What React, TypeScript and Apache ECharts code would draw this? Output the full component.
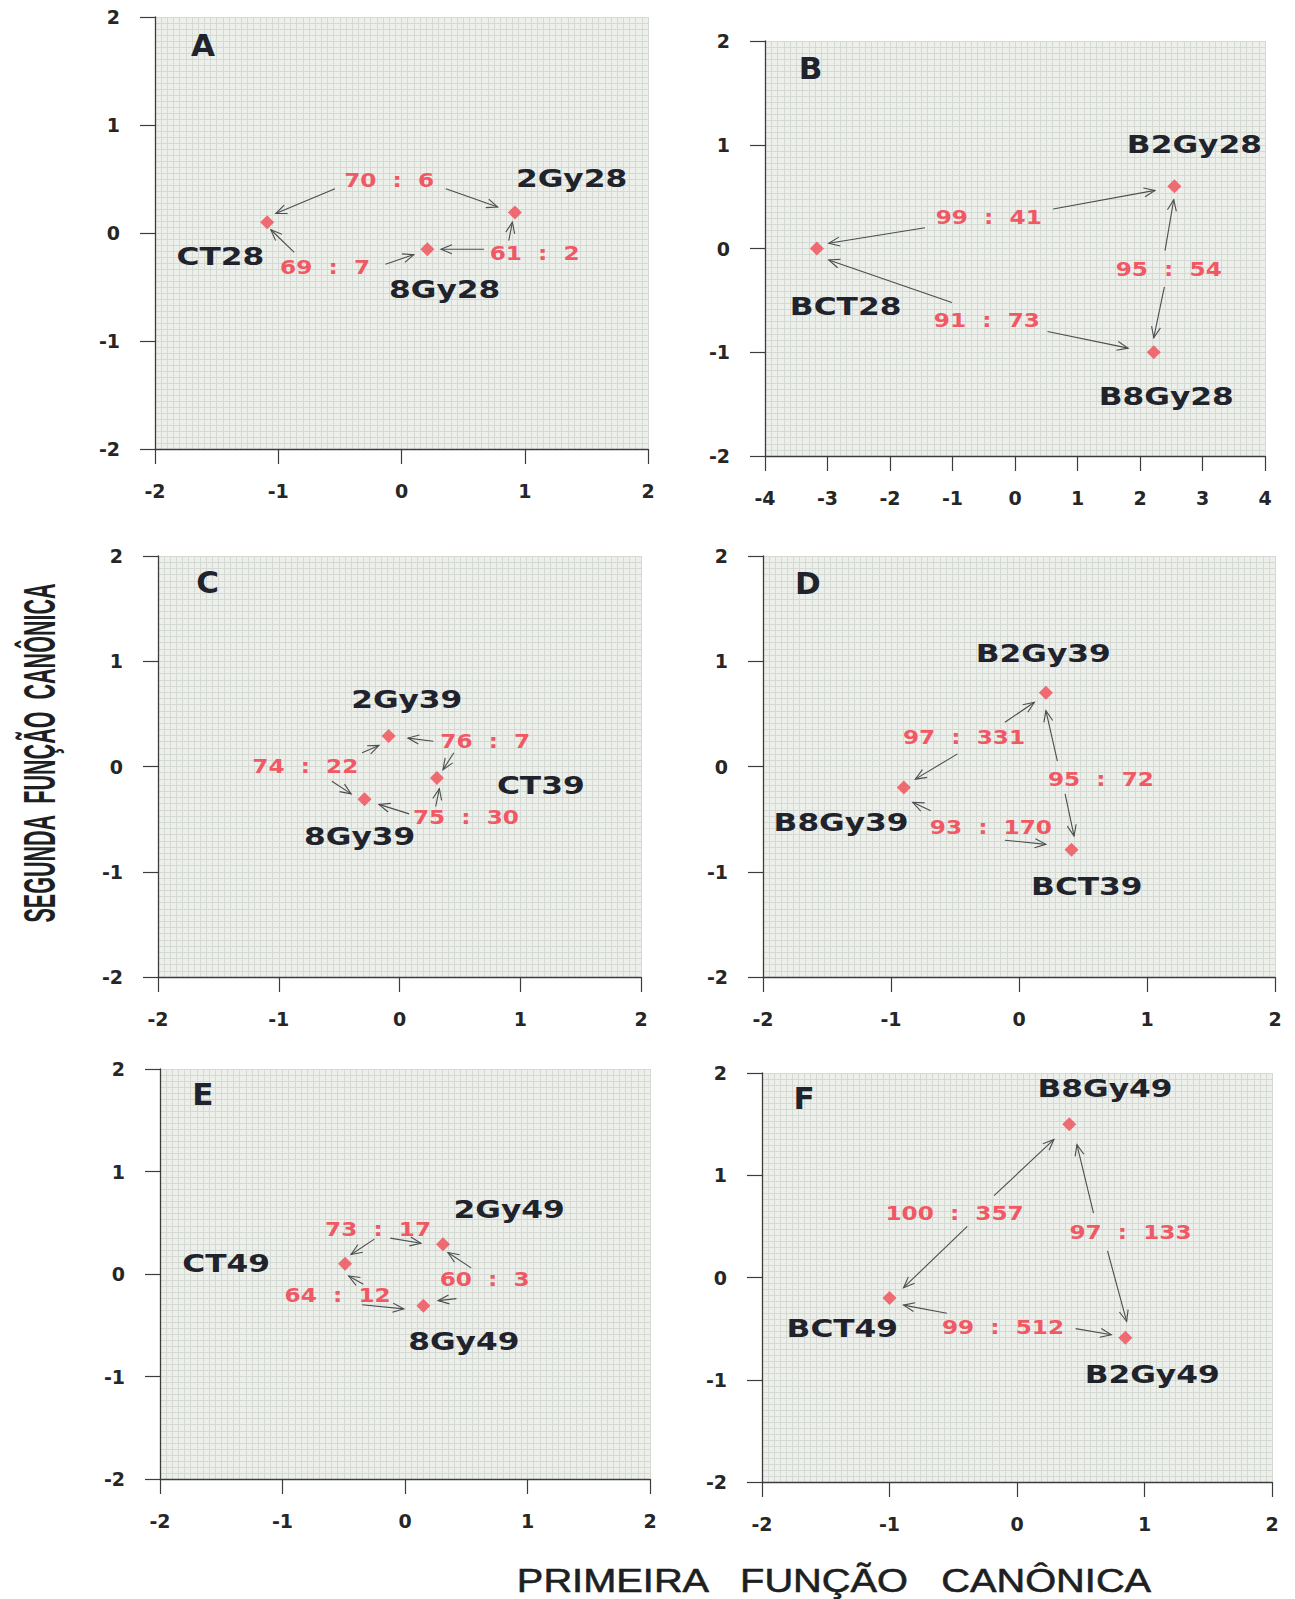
import React, { useEffect, useRef } from "react";
import * as echarts from "echarts";

// ---------------- DATA ----------------
// Group centroids [name, first canonical function, second canonical function]
const A_points: [string, number, number][] = [["CT28", -1.09, 0.10], ["2Gy28", 0.92, 0.19], ["8Gy28", 0.21, -0.15]];
const B_points: [string, number, number][] = [["BCT28", -3.17, 0.0], ["B2Gy28", 2.55, 0.60], ["B8Gy28", 2.22, -1.0]];
const C_points: [string, number, number][] = [["2Gy39", -0.09, 0.29], ["CT39", 0.31, -0.11], ["8Gy39", -0.29, -0.31]];
const D_points: [string, number, number][] = [["B2Gy39", 0.21, 0.70], ["B8Gy39", -0.90, -0.20], ["BCT39", 0.41, -0.79]];
const E_points: [string, number, number][] = [["CT49", -0.49, 0.10], ["2Gy49", 0.31, 0.29], ["8Gy49", 0.15, -0.31]];
const F_points: [string, number, number][] = [["B8Gy49", 0.41, 1.50], ["BCT49", -1.0, -0.20], ["B2Gy49", 0.85, -0.59]];

// Name label anchors [text, x, y]
const A_names: [string, number, number][] = [["2Gy28", 1.38, 0.50], ["CT28", -1.47, -0.22], ["8Gy28", 0.35, -0.52]];
const B_names: [string, number, number][] = [["B2Gy28", 2.87, 1.0], ["BCT28", -2.71, -0.56], ["B8Gy28", 2.42, -1.43]];
const C_names: [string, number, number][] = [["2Gy39", 0.06, 0.64], ["CT39", 1.17, -0.18], ["8Gy39", -0.33, -0.67]];
const D_names: [string, number, number][] = [["B2Gy39", 0.19, 1.07], ["B8Gy39", -1.39, -0.53], ["BCT39", 0.53, -1.14]];
const E_names: [string, number, number][] = [["2Gy49", 0.85, 0.63], ["CT49", -1.46, 0.10], ["8Gy49", 0.48, -0.66]];
const F_names: [string, number, number][] = [["B8Gy49", 0.69, 1.85], ["BCT49", -1.37, -0.50], ["B2Gy49", 1.06, -0.95]];

// Pairwise ratios [left, right, x, y]
const A_ratios: [number, number, number, number][] = [[70, 6, -0.10, 0.49], [69, 7, -0.62, -0.32], [61, 2, 1.08, -0.19]];
const B_ratios: [number, number, number, number][] = [[99, 41, -0.42, 0.30], [95, 54, 2.46, -0.20], [91, 73, -0.45, -0.69]];
const C_ratios: [number, number, number, number][] = [[76, 7, 0.71, 0.24], [74, 22, -0.78, 0.0], [75, 30, 0.55, -0.48]];
const D_ratios: [number, number, number, number][] = [[97, 331, -0.43, 0.28], [95, 72, 0.64, -0.12], [93, 170, -0.22, -0.58]];
const E_ratios: [number, number, number, number][] = [[73, 17, -0.22, 0.44], [60, 3, 0.65, -0.05], [64, 12, -0.55, -0.21]];
const F_ratios: [number, number, number, number][] = [[100, 357, -0.49, 0.63], [97, 133, 0.89, 0.44], [99, 512, -0.11, -0.49]];

// Arrows [x1, y1, x2, y2]
const A_arrows = [[-0.54, 0.41, -1.02, 0.18], [0.36, 0.41, 0.78, 0.24], [-0.87, -0.18, -1.06, 0.03], [-0.13, -0.29, 0.10, -0.20], [0.67, -0.15, 0.32, -0.15], [0.87, -0.07, 0.90, 0.10]];
const B_arrows = [[-1.44, 0.20, -2.98, 0.05], [0.61, 0.38, 2.24, 0.56], [-1.01, -0.52, -2.98, -0.11], [0.52, -0.80, 1.81, -0.96], [2.40, -0.02, 2.54, 0.47], [2.39, -0.37, 2.22, -0.86]];
const C_arrows = [[0.28, 0.24, 0.07, 0.27], [0.45, 0.13, 0.36, -0.03], [-0.56, -0.14, -0.40, -0.26], [-0.31, 0.13, -0.17, 0.20], [0.08, -0.45, -0.17, -0.36], [0.30, -0.38, 0.33, -0.21]];
const D_arrows = [[-0.11, 0.42, 0.12, 0.61], [-0.48, 0.12, -0.81, -0.12], [0.30, 0.05, 0.21, 0.53], [0.36, -0.26, 0.43, -0.66], [-0.69, -0.42, -0.83, -0.34], [-0.11, -0.70, 0.21, -0.74]];
const E_arrows = [[-0.25, 0.34, -0.44, 0.19], [-0.12, 0.35, 0.13, 0.30], [0.54, 0.06, 0.35, 0.21], [0.42, -0.24, 0.27, -0.26], [-0.34, -0.10, -0.46, -0.02], [-0.35, -0.30, -0.01, -0.34]];
const F_arrows = [[-0.18, 0.80, 0.29, 1.35], [-0.39, 0.50, -0.89, -0.10], [0.60, 0.63, 0.47, 1.30], [0.71, 0.26, 0.86, -0.43], [-0.55, -0.35, -0.89, -0.27], [0.46, -0.50, 0.74, -0.56]];

// Panel letters [text, x, y]
const letters: [string, number, number][] = [["A", -1.61, 1.74], ["B", -3.27, 1.74], ["C", -1.59, 1.75], ["D", -1.65, 1.74], ["E", -1.65, 1.76], ["F", -1.67, 1.76]];

// x-axis ranges per panel
const xRanges: [number, number][] = [[-2, 2], [-4, 4], [-2, 2], [-2, 2], [-2, 2], [-2, 2]];
const yRange: [number, number] = [-2, 2];

const X_TITLE = "PRIMEIRA   FUNÇÃO   CANÔNICA";
const Y_TITLE = "SEGUNDA  FUNÇÃO  CANÔNICA";

// ---------------- LAYOUT ----------------
const layout = [
  { left: 155, top: 17, width: 493, height: 432, xMinor: 20, yMinor: 18 },
  { left: 765, top: 41, width: 500, height: 415, xMinor: 10, yMinor: 17 },
  { left: 158, top: 556, width: 483, height: 421, xMinor: 20, yMinor: 17 },
  { left: 763, top: 556, width: 512, height: 421, xMinor: 21, yMinor: 17 },
  { left: 160, top: 1069, width: 490, height: 410, xMinor: 20, yMinor: 17 },
  { left: 762, top: 1073, width: 510, height: 409, xMinor: 21, yMinor: 17 },
];

const RED = "#ef4b55";
const RED_TEXT = "#f05864";
const DARK = "#20232b";
const AXIS = "#3c3c3c";
const ARROW = "#4b4d50";
const BG = "#edefea";
const MESH = "#d5d9d3";

export default function App() {
  const ref = useRef<HTMLDivElement>(null);

  useEffect(() => {
    document.body.style.margin = "0";
    if (!ref.current) return;
    const chart = echarts.init(ref.current, null, { renderer: "svg" });

    const pointsAll = [A_points, B_points, C_points, D_points, E_points, F_points];
    const namesAll = [A_names, B_names, C_names, D_names, E_names, F_names];
    const ratiosAll = [A_ratios, B_ratios, C_ratios, D_ratios, E_ratios, F_ratios];
    const arrowsAll = [A_arrows, B_arrows, C_arrows, D_arrows, E_arrows, F_arrows];

    const grid: any[] = [];
    const xAxis: any[] = [];
    const yAxis: any[] = [];
    const series: any[] = [];

    const arrowRender = (params: any, api: any) => {
      const p1 = api.coord([api.value(0), api.value(1)]);
      const p2 = api.coord([api.value(2), api.value(3)]);
      const dx = p2[0] - p1[0];
      const dy = p2[1] - p1[1];
      const len = Math.hypot(dx, dy) || 1;
      const ux = dx / len;
      const uy = dy / len;
      const L = 11;
      const W = 4.5;
      const bx = p2[0] - ux * L;
      const by = p2[1] - uy * L;
      const h1 = [bx - uy * W, by + ux * W];
      const h2 = [bx + uy * W, by - ux * W];
      return {
        type: "group",
        children: [
          { type: "line", shape: { x1: p1[0], y1: p1[1], x2: p2[0], y2: p2[1] }, style: { stroke: ARROW, lineWidth: 1.1 } },
          { type: "polyline", shape: { points: [h1, p2, h2] }, style: { stroke: ARROW, lineWidth: 1.1, fill: "none" } },
        ],
      };
    };

    const textRender = (texts: string[], st: any) => (params: any, api: any) => {
      const p = api.coord([api.value(0), api.value(1)]);
      return {
        type: "text",
        x: p[0],
        y: p[1],
        scaleX: st.scaleX,
        style: {
          text: texts[params.dataIndex],
          fill: st.color,
          fontSize: st.fontSize,
          fontFamily: st.fontFamily,
          fontWeight: st.fontWeight,
          align: "center",
          verticalAlign: "middle",
          textAlign: "center",
          textVerticalAlign: "middle",
        },
      };
    };

    layout.forEach((g, i) => {
      grid.push({ left: g.left, top: g.top, width: g.width, height: g.height, show: true, backgroundColor: BG, borderWidth: 0 });
      const common = {
        gridIndex: i,
        type: "value",
        interval: 1,
        axisLine: { show: true, onZero: false, lineStyle: { color: AXIS, width: 1.3 } },
        axisTick: { show: true, inside: false, length: 15, lineStyle: { color: AXIS, width: 1.2 } },
        splitLine: { show: true, lineStyle: { color: MESH, width: 1 } },
        minorSplitLine: { show: true, lineStyle: { color: MESH, width: 1 } },
        axisLabel: {
          show: true,
          color: "#262626",
          fontSize: 19,
          fontWeight: "bold",
          fontFamily: "DejaVu Sans, sans-serif",
          showMinLabel: true,
          showMaxLabel: true,
        },
      };
      xAxis.push({
        ...common,
        min: xRanges[i][0],
        max: xRanges[i][1],
        position: "bottom",
        minorTick: { show: true, splitNumber: g.xMinor, length: 0, lineStyle: { width: 0 } },
        axisLabel: { ...common.axisLabel, margin: 32 },
      });
      yAxis.push({
        ...common,
        min: yRange[0],
        max: yRange[1],
        position: "left",
        minorTick: { show: true, splitNumber: g.yMinor, length: 0, lineStyle: { width: 0 } },
        axisLabel: { ...common.axisLabel, margin: 35 },
      });

      // arrows
      series.push({
        type: "custom",
        coordinateSystem: "cartesian2d",
        xAxisIndex: i,
        yAxisIndex: i,
        silent: true,
        z: 3,
        encode: { x: [0, 2], y: [1, 3] },
        data: arrowsAll[i],
        renderItem: arrowRender,
      });

      // points
      series.push({
        type: "scatter",
        xAxisIndex: i,
        yAxisIndex: i,
        symbol: "diamond",
        symbolSize: [14, 14],
        silent: true,
        z: 4,
        itemStyle: { color: RED },
        data: pointsAll[i].map((p) => [p[1], p[2]]),
      });

      // group names
      const nm = namesAll[i];
      series.push({
        type: "custom",
        coordinateSystem: "cartesian2d",
        xAxisIndex: i,
        yAxisIndex: i,
        silent: true,
        z: 5,
        data: nm.map((n) => [n[1], n[2]]),
        renderItem: textRender(nm.map((n) => n[0]), {
          color: DARK, fontSize: 25, fontFamily: "DejaVu Sans, sans-serif", fontWeight: "bold", scaleX: 1.25,
        }),
      });

      // ratios
      const rt = ratiosAll[i];
      series.push({
        type: "custom",
        coordinateSystem: "cartesian2d",
        xAxisIndex: i,
        yAxisIndex: i,
        silent: true,
        z: 5,
        data: rt.map((r) => [r[2], r[3]]),
        renderItem: textRender(rt.map((r) => `${r[0]}  :  ${r[1]}`), {
          color: RED_TEXT, fontSize: 19, fontFamily: "DejaVu Sans, sans-serif", fontWeight: "bold", scaleX: 1.22,
        }),
      });

      // panel letter
      series.push({
        type: "custom",
        coordinateSystem: "cartesian2d",
        xAxisIndex: i,
        yAxisIndex: i,
        silent: true,
        z: 5,
        data: [[letters[i][1], letters[i][2]]],
        renderItem: textRender([letters[i][0]], {
          color: DARK, fontSize: 31, fontFamily: "DejaVu Sans, sans-serif", fontWeight: "bold", scaleX: 1.0,
        }),
      });
    });

    chart.setOption({
      animation: false,
      backgroundColor: "#ffffff",
      grid,
      xAxis,
      yAxis,
      series,
      graphic: [
        {
          type: "text",
          x: 834,
          y: 1581,
          scaleX: 1.17,
          style: {
            text: X_TITLE,
            fill: "#1d1f22",
            fontSize: 34,
            fontFamily: "Liberation Sans, Arial, sans-serif",
            fontWeight: "normal",
            stroke: "#1d1f22",
            lineWidth: 0.6,
            align: "center",
            verticalAlign: "middle",
            textAlign: "center",
            textVerticalAlign: "middle",
          },
        },
        {
          type: "text",
          x: 40,
          y: 753,
          rotation: Math.PI / 2,
          scaleX: 0.49,
          style: {
            text: Y_TITLE,
            fill: "#1d1f22",
            fontSize: 44,
            fontFamily: "Liberation Sans, Arial, sans-serif",
            fontWeight: "bold",
            align: "center",
            verticalAlign: "middle",
            textAlign: "center",
            textVerticalAlign: "middle",
          },
        },
      ],
    });

    return () => {
      chart.dispose();
    };
  }, []);

  return <div ref={ref} style={{ width: 1295, height: 1599 }} />;
}
